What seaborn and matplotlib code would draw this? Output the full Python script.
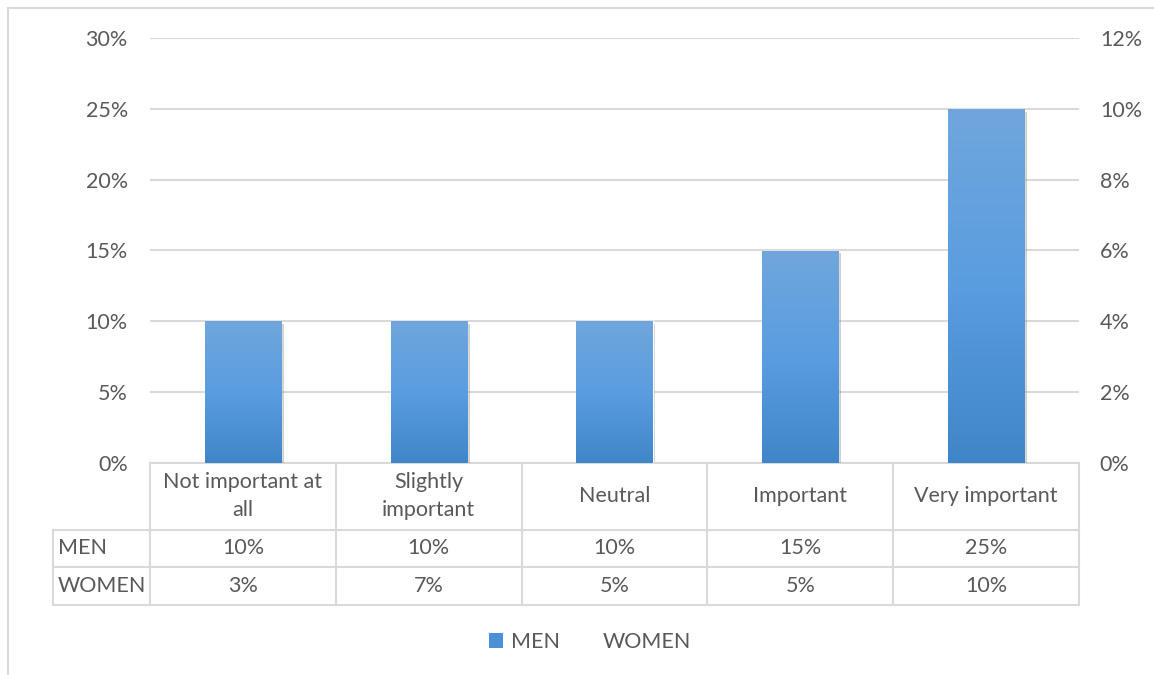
"""
MEN / WOMEN importance chart with data table (Excel style)
"""

import matplotlib
matplotlib.use("Agg")
import matplotlib.pyplot as plt
import matplotlib.transforms as mtrans
import matplotlib.patheffects as pe
from matplotlib import ticker
from matplotlib.lines import Line2D
from matplotlib.patches import Patch
import numpy as np
import pandas as pd
import seaborn as sns

categories = ["Not important at\nall", "Slightly\nimportant", "Neutral", "Important", "Very important"]
men = [0.10, 0.10, 0.10, 0.15, 0.25]
women = [0.03, 0.07, 0.05, 0.05, 0.10]
men_labels = ["10%", "10%", "10%", "15%", "25%"]
women_labels = ["3%", "7%", "5%", "5%", "10%"]

sns.set_theme(style="white")
plt.rcParams["font.family"] = ["Lato", "DejaVu Sans"]

W, H = 1154, 675
grid_c = "#d9d9d9"
text_c = "#595959"
fs = 15.5

fig = plt.figure(figsize=(W / 100, H / 100), dpi=100)

def px(x, y):
    # pixel (from top-left) -> figure fraction
    return x / W, 1 - y / H

left, top, right, bottom = 150, 38, 1079, 463
ax = fig.add_axes([left / W, 1 - bottom / H, (right - left) / W, (bottom - top) / H])

data = pd.DataFrame({"cat": categories, "MEN": men, "WOMEN": women})

sns.barplot(data=data, x="cat", y="MEN", ax=ax, color="#4a90d6", width=0.41,
            saturation=1, zorder=3)
ax.set_xlim(-0.5, 4.5)
ax.set_ylim(0, 0.30)
ax.set_yticks(np.arange(0, 0.31, 0.05))
ax.yaxis.set_major_formatter(ticker.FuncFormatter(lambda v, p: f"{v*100:.0f}%"))
ax.grid(axis="y", color=grid_c, lw=1.5, zorder=0)
ax.set_axisbelow(True)
ax.set_xticks([])
ax.set_xlabel("")
ax.set_ylabel("")
ax.tick_params(axis="y", length=0, pad=16, labelsize=fs, labelcolor=text_c)
for s in ["top", "right", "left"]:
    ax.spines[s].set_visible(False)
ax.spines["bottom"].set_color(grid_c)
ax.spines["bottom"].set_linewidth(1.5)

# gradient fill + soft shadow on the bars
grad = np.linspace(0, 1, 256).reshape(-1, 1)
cmap = matplotlib.colors.LinearSegmentedColormap.from_list("g", ["#3f86c9", "#5a9de0", "#70a6dc"])
for p in ax.patches:
    p.set_path_effects([pe.SimplePatchShadow(offset=(2, -2), shadow_rgbFace="#666666", alpha=0.3),
                        pe.Normal()])
    x0, y0 = p.get_x(), p.get_y()
    im = ax.imshow(grad, extent=[x0, x0 + p.get_width(), y0, y0 + p.get_height()],
                   origin="lower", cmap=cmap, aspect="auto", zorder=4)
    im.set_clip_path(p)
ax.set_xlim(-0.5, 4.5)
ax.set_ylim(0, 0.30)

# secondary axis for WOMEN (no fill, as in the original)
ax2 = ax.twinx()
sns.barplot(data=data, x="cat", y="WOMEN", ax=ax2, color="white", width=0.41, alpha=0)
ax2.set_xlim(-0.5, 4.5)
ax2.set_ylim(0, 0.12)
ax2.set_yticks(np.arange(0, 0.121, 0.02))
ax2.yaxis.set_major_formatter(ticker.FuncFormatter(lambda v, p: f"{v*100:.0f}%"))
ax2.tick_params(axis="y", length=0, pad=15, labelsize=fs, labelcolor=text_c)
ax2.set_xlabel("")
ax2.set_ylabel("")
ax2.set_xticks([])
for s in ax2.spines.values():
    s.set_visible(False)

# data table under the plot
tr = mtrans.blended_transform_factory(ax.transData, fig.transFigure)
y_head, y_men, y_women, y_end = 463, 530, 567, 605
tbl_left = 53
lw = 1.5
for yy in [y_men, y_women, y_end]:
    fig.add_artist(Line2D([tbl_left / W, right / W], [1 - yy / H] * 2, color=grid_c, lw=lw))
fig.add_artist(Line2D([tbl_left / W] * 2, [1 - y_men / H, 1 - y_end / H], color=grid_c, lw=lw))
for i in range(len(categories) + 1):
    fig.add_artist(Line2D([i - 0.5] * 2, [1 - y_head / H, 1 - y_end / H], color=grid_c,
                          lw=lw, transform=tr))

for i, c in enumerate(categories):
    fig.text(i, 1 - 496 / H, c, transform=tr, ha="center", va="center",
             fontsize=fs, color=text_c, linespacing=1.55)
    fig.text(i, 1 - (y_men + y_women) / 2 / H, men_labels[i], transform=tr, ha="center",
             va="center", fontsize=fs, color=text_c)
    fig.text(i, 1 - (y_women + y_end) / 2 / H, women_labels[i], transform=tr, ha="center",
             va="center", fontsize=fs, color=text_c)
fig.text(*px(tbl_left + 5, (y_men + y_women) / 2), "MEN", ha="left", va="center",
         fontsize=fs, color=text_c)
fig.text(*px(tbl_left + 5, (y_women + y_end) / 2), "WOMEN", ha="left", va="center",
         fontsize=fs, color=text_c)

# legend
handles = [Patch(facecolor="#4a90d6", edgecolor="none"),
           Patch(facecolor="none", edgecolor="none")]
fig.legend(handles, ["MEN", "WOMEN"], loc="center", bbox_to_anchor=px(590, 642), ncol=2,
           frameon=False, fontsize=fs, labelcolor=text_c, handlelength=0.65, handleheight=0.65,
           handletextpad=0.35, columnspacing=1.0)

# chart frame (partly outside the image)
fig.add_artist(Line2D([8 / W, 1], [1 - 8 / H] * 2, color=grid_c, lw=1.5))
fig.add_artist(Line2D([8 / W] * 2, [0, 1 - 8 / H], color=grid_c, lw=1.5))

fig.savefig("out.png", dpi=100)
